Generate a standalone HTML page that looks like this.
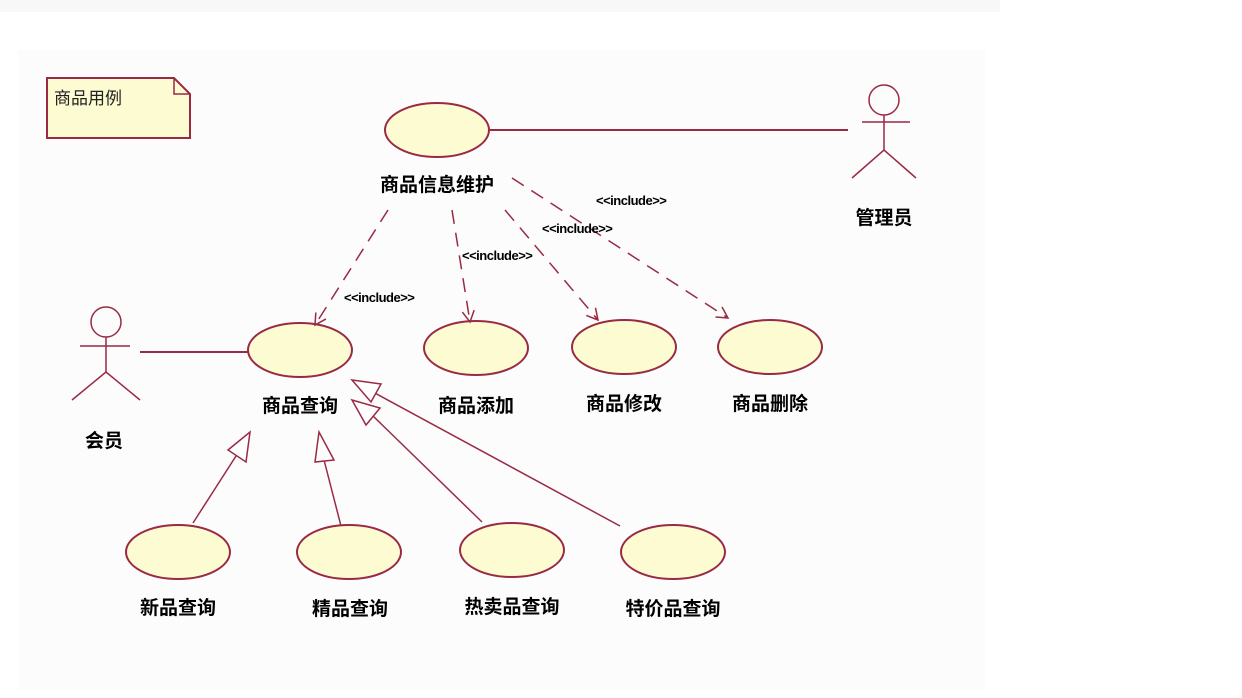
<!DOCTYPE html>
<html><head><meta charset="utf-8"><style>
html,body{margin:0;padding:0;background:#fff;width:1242px;height:698px;overflow:hidden}
svg{display:block}
text{font-family:"Liberation Sans","WenQuanYi Zen Hei","Noto Sans CJK SC",sans-serif}
.l{font-size:19px;font-weight:bold;fill:#000;text-anchor:middle}
.i{font-size:13px;font-weight:bold;fill:#000;letter-spacing:-0.5px}
</style></head><body>
<svg width="1242" height="698" viewBox="0 0 1242 698">
<defs>
<marker id="op" markerWidth="14" markerHeight="14" refX="12" refY="7" orient="auto" markerUnits="userSpaceOnUse">
<path d="M1,1 L12,7 L1,13" fill="none" stroke="#9a2a44" stroke-width="1.5"/></marker>
</defs>
<rect x="0" y="0" width="1000" height="12" fill="#f7f8f7"/>
<rect x="18" y="50" width="967" height="640" fill="#fbfcfb"/>
<g stroke="#9a2a44" stroke-width="2" fill="#fdfbd2">
<path d="M47,78 H174 L190,94 V138 H47 Z"/>
<path d="M174,78 V94 H190" fill="none" stroke-width="1.5"/>
<ellipse cx="437" cy="130" rx="52" ry="27"/>
<ellipse cx="300" cy="350" rx="52" ry="27"/>
<ellipse cx="476" cy="348" rx="52" ry="27"/>
<ellipse cx="624" cy="347" rx="52" ry="27"/>
<ellipse cx="770" cy="347" rx="52" ry="27"/>
<ellipse cx="178" cy="552" rx="52" ry="27"/>
<ellipse cx="349" cy="552" rx="52" ry="27"/>
<ellipse cx="512" cy="550" rx="52" ry="27"/>
<ellipse cx="673" cy="552" rx="52" ry="27"/>
</g>
<g stroke="#9a2a44" stroke-width="1.5" fill="none">
<line x1="490" y1="130" x2="848" y2="130" stroke-width="2"/>
<line x1="140" y1="352" x2="248" y2="352" stroke-width="2"/>
<circle cx="884" cy="100" r="15"/>
<line x1="862" y1="122" x2="910" y2="122"/>
<line x1="884" y1="115" x2="884" y2="150"/>
<path d="M852,178 L884,150 L916,178"/>
<circle cx="106" cy="322" r="15"/>
<line x1="80" y1="346" x2="130" y2="346"/>
<line x1="106" y1="337" x2="106" y2="372"/>
<path d="M72,400 L106,372 L140,400"/>
<g stroke-dasharray="14,9">
<line x1="388" y1="210" x2="315" y2="325" marker-end="url(#op)"/>
<line x1="452" y1="210" x2="470" y2="322" marker-end="url(#op)"/>
<line x1="505" y1="210" x2="598" y2="320" marker-end="url(#op)"/>
<line x1="512" y1="178" x2="728" y2="318" marker-end="url(#op)"/>
</g>
<line x1="193" y1="523" x2="245" y2="442"/>
<path d="M250,432 L246,462 L228,450 Z" fill="#fff"/>
<line x1="341" y1="526" x2="323" y2="456"/>
<path d="M319,432 L334,460 L315,462 Z" fill="#fff"/>
<line x1="482" y1="522" x2="372" y2="415"/>
<path d="M352,400 L380,408 L366,425 Z" fill="#fff"/>
<line x1="620" y1="526" x2="373" y2="392"/>
<path d="M352,380 L381,384 L371,402 Z" fill="#fff"/>
</g>
<text x="54" y="104" font-size="17" fill="#222">商品用例</text>
<text class="l" x="437" y="191">商品信息维护</text>
<text class="l" x="884" y="224">管理员</text>
<text class="l" x="104" y="447">会员</text>
<text class="l" x="300" y="412">商品查询</text>
<text class="l" x="476" y="412">商品添加</text>
<text class="l" x="624" y="410">商品修改</text>
<text class="l" x="770" y="410">商品删除</text>
<text class="l" x="178" y="614">新品查询</text>
<text class="l" x="350" y="615">精品查询</text>
<text class="l" x="512" y="613">热卖品查询</text>
<text class="l" x="673" y="615">特价品查询</text>
<text class="i" x="344" y="302">&lt;&lt;include&gt;&gt;</text>
<text class="i" x="462" y="260">&lt;&lt;include&gt;&gt;</text>
<text class="i" x="542" y="233">&lt;&lt;include&gt;&gt;</text>
<text class="i" x="596" y="205">&lt;&lt;include&gt;&gt;</text>
</svg>
</body></html>
